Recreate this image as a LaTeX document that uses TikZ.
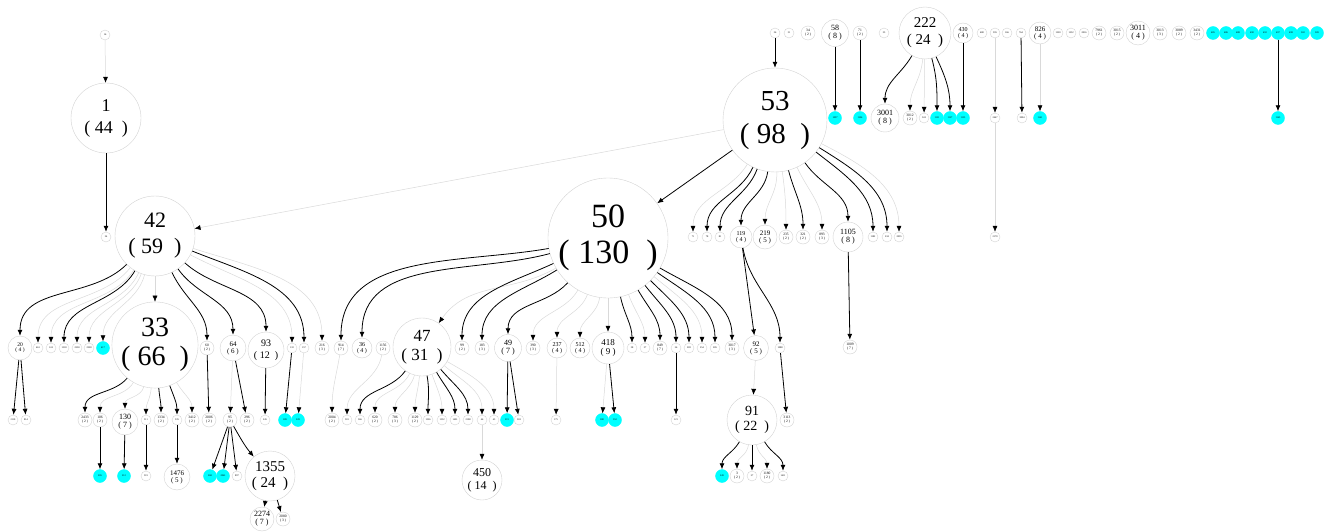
\documentclass[tikz,border=0pt]{standalone}
\usepackage{fontspec}
\setmainfont{Liberation Serif}
\usetikzlibrary{arrows.meta}

\definecolor{hitcyan}{RGB}{0,255,255}
\newcommand{\fsz}[2]{\fontsize{#1}{#2}\selectfont}

\begin{document}
\begin{tikzpicture}[
    x=1pt, y=1pt,
    count node/.style={circle, draw=gray!35, line width=0.4pt, inner sep=0pt, align=center},
    leaf node/.style={count node, minimum size=10pt, font=\fsz{2.5}{3}},
    pair node/.style={count node, minimum size=14pt, font=\fsz{3.6}{4.2}},
    hit node/.style={circle, draw=hitcyan, fill=hitcyan, minimum size=13pt, inner sep=0pt, font=\fsz{2.5}{3}},
    dark edge/.style={draw=black, line width=0.8pt, -{Latex[length=6pt,width=5pt]}},
    light edge/.style={draw=gray!30, line width=0.5pt, -{Latex[length=6pt,width=5pt,color=black]}}
    ]
    \useasboundingbox (0,0) rectangle (1326,-532);

    % Big clusters
    \node[count node, minimum size=70pt, font=\fsz{18}{22}] (n1) at (106,-118) {1\\(\ 44\ \ )};
    \node[count node, minimum size=80pt, font=\fsz{22}{26}] (n42) at (155,-236) {42\\(\ 59\ \ )};
    \node[count node, minimum size=86pt, font=\fsz{28}{29}] (n33) at (155,-345) {33\\(\ 66\ \ )};
    \node[count node, minimum size=104pt, font=\fsz{29}{33}] (n53) at (775,-120) {53\\(\ 98\ \ )};
    \node[count node, minimum size=120pt, font=\fsz{34}{36}] (n50) at (608,-238) {50\\(\ 130\ \ )};
    \node[count node, minimum size=58pt, font=\fsz{17}{19}] (n47) at (422,-347) {47\\(\ 31\ \ )};
    \node[count node, minimum size=50pt, font=\fsz{14}{15}] (n91) at (752,-420) {91\\(\ 22\ \ )};
    \node[count node, minimum size=50pt, font=\fsz{15}{16}] (n1355) at (270,-476) {1355\\(\ 24\ \ )};
    \node[count node, minimum size=40pt, font=\fsz{12}{13}] (n450) at (482,-480) {450\\(\ 14\ \ )};
    \node[count node, minimum size=52pt, font=\fsz{15}{17}] (n222) at (925,-33) {222\\(\ 24\ \ )};
    \node[count node, minimum size=36pt, font=\fsz{10}{12}] (n93) at (266,-350) {93\\(\ 12\ \ )};

    % Medium clusters
    \foreach \x/\y/\s/\f/\a/\b in {835/33/27/8/58/8, 885/118/28/8/3001/8, 848/237/30/8/1105/8,
        125/422/26/8/130/7, 262/519/24/8/2274/7, 508/348/27/8/49/7, 608/348/32/9/418/9,
        1138/33/24/8/3011/4, 1040/33/22/7/826/4, 233/348/26/7/64/6, 756/348/25/7/92/5,
        765/237/24/7/219/5, 177/477/26/7/1476/5, 20/348/24/5.5/20/4, 362/348/20/6/36/4,
        557/348/20/6/237/4, 580/348/20/6/512/4, 741/237/22/6/119/4, 963/33/20/6/430/4}
        \node[count node, minimum size=\s pt, font=\fsz{\f}{\f}] (n\a) at (\x,-\y) {\a\\(\ \b\ )};

    % Small clusters
    \foreach \x/\y/\a/\b in {808/33/34/2, 860/33/71/2, 1099/33/7961/2, 1117/33/3015/2, 1160/33/3013/3,
        1179/33/3089/2, 1197/33/3431/2, 910/118/3012/2, 786/237/235/2, 803/237/321/2, 822/237/893/3,
        207/348/60/2, 322/348/216/3, 341/348/914/7, 383/348/1156/2, 462/348/99/2, 482/348/183/3,
        533/348/390/3, 660/348/849/7, 732/348/3017/3, 850/347/1009/7, 85/420/2433/2, 100/420/106/2,
        161/420/1334/2, 192/420/3412/2, 209/420/2006/2, 230/420/95/2, 247/420/296/2, 332/420/2004/2,
        375/420/620/2, 395/420/786/3, 415/420/1129/2, 787/420/3113/2, 737/476/3/2, 767/476/1180/2,
        283/519/2080/3}
        \node[pair node] (n\a) at (\x,-\y) {\a\\(\ \b\ )};

    % Single ids
    \foreach \x/\y/\a in {105/35/16, 106/237/24, 38/348/461, 51/348/124, 64/348/1318, 77/348/2550,
        89/348/2228, 292/348/132, 304/348/157, 632/348/38, 645/348/37, 676/348/56, 689/348/283,
        702/348/254, 715/348/285, 780/348/1088, 13/420/2110, 26/420/814, 146/420/311, 177/420/335,
        265/420/245, 347/420/301, 360/420/366, 428/420/1326, 442/420/1332, 455/420/1401, 468/420/2108,
        482/420/46, 494/420/43, 519/420/518, 556/420/175, 676/420/121, 146/476/319, 237/476/897,
        752/476/57, 783/476/1411, 775/33/36, 789/33/31, 884/33/33, 982/33/480, 995/33/395,
        1007/33/166, 1021/33/764, 1058/33/1220, 1071/33/1232, 1084/33/2016, 924/118/324,
        995/118/2447, 1022/118/3004, 693/237/71, 707/237/78, 720/237/81, 873/237/1182, 887/237/234,
        899/237/2035, 995/237/2170}
        \node[leaf node] (s\a) at (\x,-\y) {\a};

    % Marked ids
    \foreach \x/\y/\a in {103/348/417, 285/420/189, 298/420/228, 507/420/219, 602/420/180,
        615/420/352, 100/476/205, 124/476/212, 210/476/268, 223/476/2061, 722/476/249,
        1213/33/485, 1226/33/486, 1238/33/488, 1252/33/490, 1265/33/492, 1278/33/497,
        1291/33/498, 1303/33/502, 1317/33/509, 835/118/1097, 860/118/1106, 937/118/1121,
        950/118/1127, 963/118/1133, 1040/118/1141, 1278/118/1163}
        \node[hit node] (c\a) at (\x,-\y) {\a};

    % Connections from 42 and 33
    \draw[light edge] (s16) -- (n1);
    \draw[dark edge] (n1) -- (s24);
    \draw[light edge] (n53) -- (n42);
    \draw[dark edge] (n42) to[out=225,in=90] (n20);
    \draw[light edge] (n42) -- (n33);
    \foreach \b/\o in {s461/232, s124/238, s2550/246, s2228/250, c417/255, s132/332, n216/342}
        \draw[light edge] (n42) to[out=\o,in=90] (\b);
    \foreach \b/\o in {s1318/240, n60/295, n64/305, n93/318, s157/338}
        \draw[dark edge] (n42) to[out=\o,in=90] (\b);
    \foreach \b/\o in {n2433/230, n1334/275, s335/290}
        \draw[dark edge] (n33) to[out=\o,in=90] (\b);
    \foreach \b/\o in {n106/240, n130/255, s311/265, n3412/300}
        \draw[light edge] (n33) to[out=\o,in=90] (\b);
    \draw[dark edge] (n95) to[out=300,in=130] (n1355);

    % Connections from 50 and 47
    \draw[dark edge] (n53) -- (n50);
    \draw[light edge] (n50) to[out=210,in=55] (n47);
    \draw[light edge] (n50) -- (n418);
    \foreach \b/\o in {n914/190, n36/195, n99/205, n183/212, n49/228, s38/282, n849/300,
        s56/308, s283/315, s285/325, n3017/330}
        \draw[dark edge] (n50) to[out=\o,in=90] (\b);
    \foreach \b/\o in {n390/240, n237/250, n512/262, s37/290, s254/320}
        \draw[light edge] (n50) to[out=\o,in=90] (\b);
    \foreach \b/\o in {s366/235, s1326/280, s1401/300, s2108/310}
        \draw[dark edge] (n47) to[out=\o,in=90] (\b);
    \foreach \b/\o in {n620/245, n786/255, n1129/265, s1332/290, s46/320, s43/330}
        \draw[light edge] (n47) to[out=\o,in=90] (\b);
    \draw[light edge] (n914) to[out=260,in=90] (n2004);
    \draw[light edge] (n1156) to[out=260,in=90] (s301);

    % Connections from 53, 91 and 222
    \foreach \b/\o in {s78/245, s81/250, n119/262, n321/285, n1105/305, s1182/322, s234/328}
        \draw[dark edge] (n53) to[out=\o,in=90] (\b);
    \foreach \b/\o in {s71/238, n219/272, n235/278, n893/295, s2035/333}
        \draw[light edge] (n53) to[out=\o,in=90] (\b);
    \draw[dark edge] (n119) to[out=280,in=90] (s1088);
    \foreach \b/\o in {c249/240, s1411/300}
        \draw[dark edge] (n91) to[out=\o,in=90] (\b);
    \foreach \b/\o in {n3/262, n1180/280}
        \draw[light edge] (n91) to[out=\o,in=90] (\b);
    \foreach \b/\o in {n3001/240, c1121/285, c1127/295}
        \draw[dark edge] (n222) to[out=\o,in=90] (\b);
    \draw[light edge] (n222) to[out=265,in=90] (n3012);

    % Straight links
    \foreach \a/\b in {n20/s2110, n20/s814, n106/c205, n130/c212, s311/s319, s335/n1476,
        n60/n2006, n64/n296, n93/s245, s132/c189, n95/c268, n95/c2061, n95/s897,
        n1355/n2274, n1355/n2080, n49/c219, n49/s518, n418/c352, s56/s121, n119/n92,
        s1088/n3113, n1105/n1009, n91/s57, s36/n53, n58/c1097, n71/c1106, n430/c1133,
        s764/s3004, c497/c1163}
        \draw[dark edge] (\a) -- (\b);
    \foreach \a/\b in {n64/n95, s157/c228, n237/s175, n418/c180, s46/n450, n92/n91,
        s395/s2447, s2447/s2170, n826/c1141, n222/s324}
        \draw[light edge] (\a) -- (\b);

\end{tikzpicture}
\end{document}
